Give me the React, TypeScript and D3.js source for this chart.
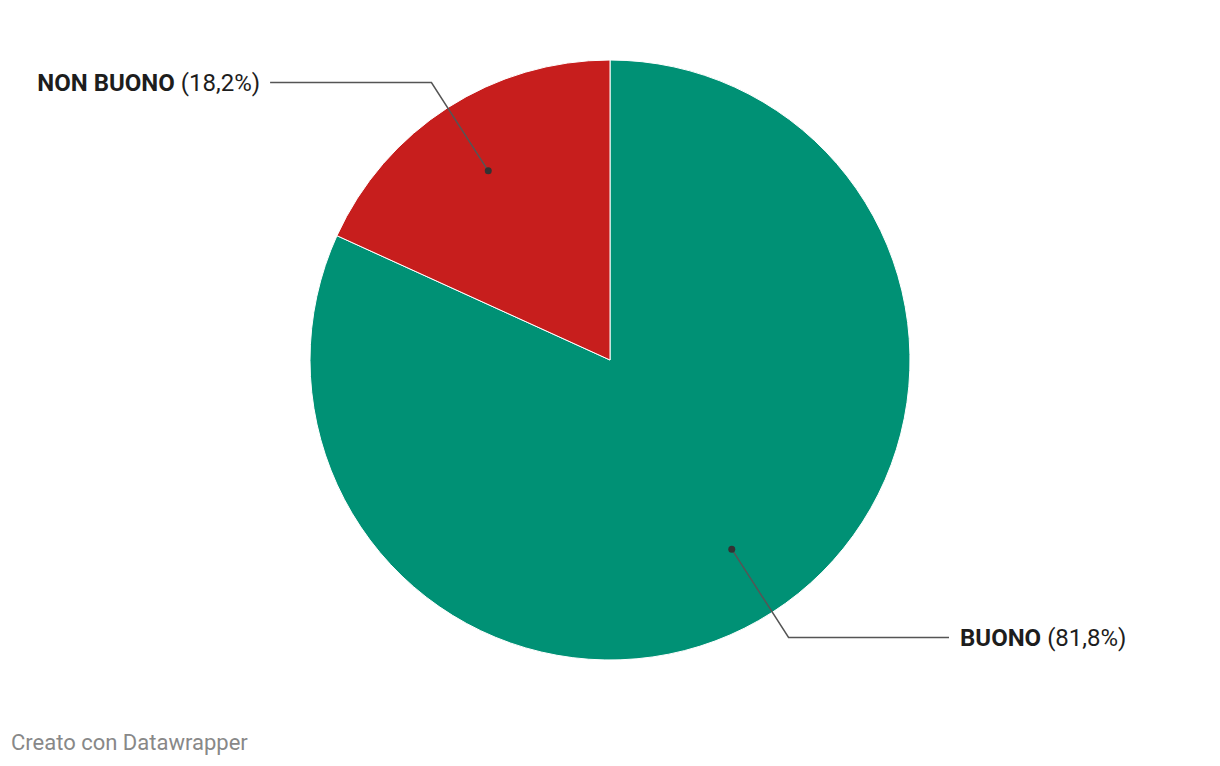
import React from "react";
import * as d3 from "d3";

const categories = ["BUONO", "NON BUONO"];
const values = [81.8, 18.2];
const colors = ["#009175", "#c71e1d"];
const labels = ["81,8%", "18,2%"];

const W = 1220;
const H = 766;
const cx = 610;
const cy = 360;
const R = 300;

export default function App() {
  const pie = d3.pie<number>().sort(null).value((d) => d);
  const arcs = pie(values);
  const arcGen = d3.arc<d3.PieArcDatum<number>>().innerRadius(0).outerRadius(R);
  const dotArc = d3.arc<d3.PieArcDatum<number>>().innerRadius(R * 0.75).outerRadius(R * 0.75);
  const elbowArc = d3.arc<d3.PieArcDatum<number>>().innerRadius(R * 1.1).outerRadius(R * 1.1);

  return (
    <svg
      width={W}
      height={H}
      style={{ position: "absolute", left: 0, top: 0, display: "block", background: "#fff" }}
      fontFamily="Roboto, sans-serif"
    >
      <g transform={`translate(${cx},${cy})`}>
        {arcs.map((a, i) => (
          <path key={categories[i]} d={arcGen(a) || ""} fill={colors[i]} stroke="#fff" strokeWidth={1} />
        ))}
        {arcs.map((a, i) => {
          const [dx, dy] = dotArc.centroid(a);
          const [ex, ey] = elbowArc.centroid(a);
          const right = ex > 0;
          const hx = right ? R * 1.13 : -R * 1.133;
          const tx = right ? hx + 11 : hx - 10;
          return (
            <g key={"l" + i}>
              <polyline
                points={`${dx},${dy} ${ex},${ey} ${hx},${ey}`}
                fill="none"
                stroke="#555"
                strokeWidth={1.5}
              />
              <circle cx={dx} cy={dy} r={3.5} fill="#333" />
              <text
                x={tx}
                y={ey}
                dy="0.35em"
                fontSize={24}
                fill="#1d1d1d"
                textAnchor={right ? "start" : "end"}
              >
                <tspan fontWeight="bold">{categories[i]}</tspan>
                <tspan> ({labels[i]})</tspan>
              </text>
            </g>
          );
        })}
      </g>
      <text x={11} y={750} fontSize={22} fill="#888">
        Creato con Datawrapper
      </text>
    </svg>
  );
}
